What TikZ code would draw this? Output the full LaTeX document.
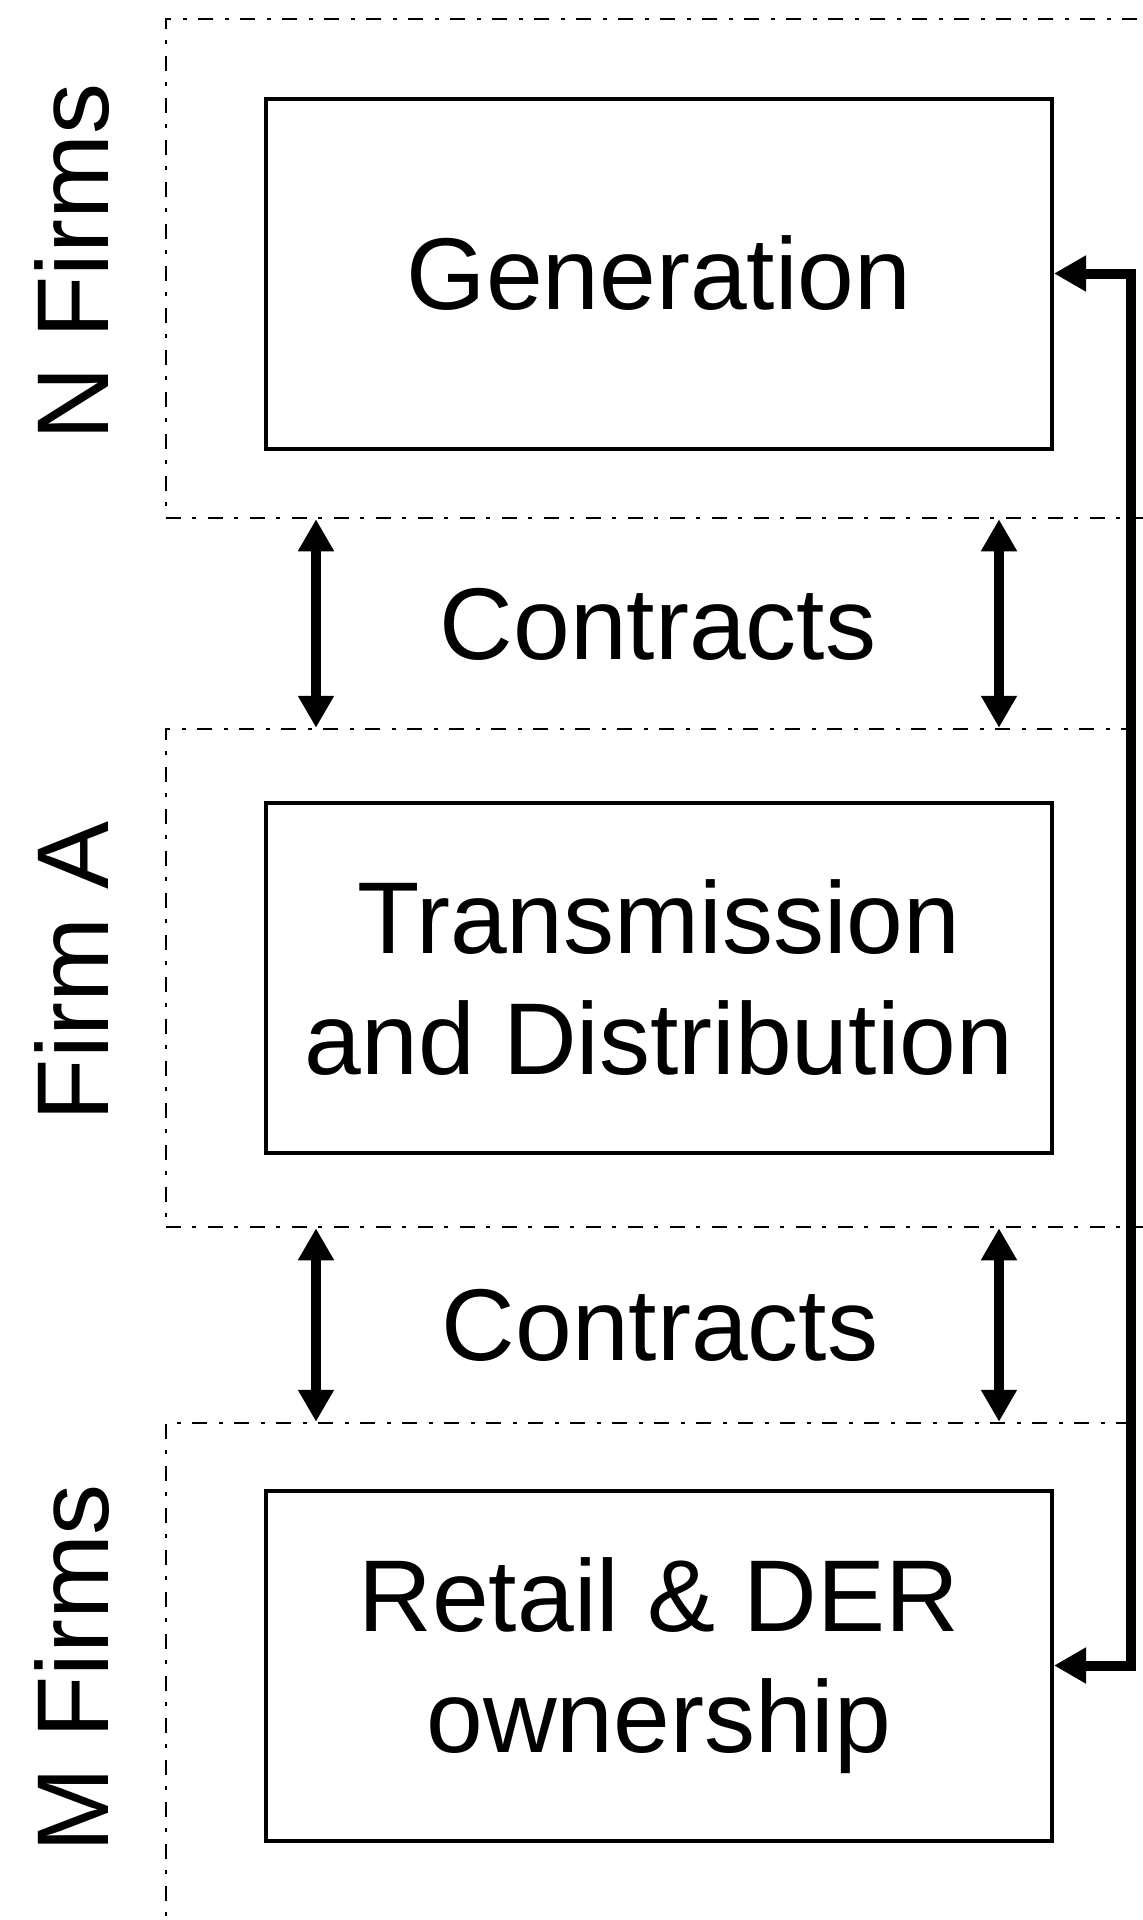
\documentclass[tikz,border=0pt]{standalone}
\usepackage{fontspec}
\setmainfont{Liberation Sans}
\usetikzlibrary{arrows.meta}

\begin{document}
\begin{tikzpicture}[x=1pt, y=-1pt,
    box/.style={rectangle, draw=black, line width=4pt, minimum width=786pt,
        minimum height=350pt, inner sep=0pt, align=center,
        font=\fontsize{102}{121}\selectfont},
    grp/.style={rectangle, draw=black, line width=2.5pt, minimum width=1034pt,
        dash pattern=on 15pt off 11pt on 4pt off 12pt},
    lbl/.style={rotate=90, inner sep=0pt, font=\fontsize{102}{121}\selectfont},
    arr/.style={{Triangle[length=32pt,width=34pt]}-{Triangle[length=32pt,width=34pt]},
        line width=10pt}
]
    \useasboundingbox (0,0) rectangle (1143,1920);
    \clip (0,0) rectangle (1143,1920);

    % firm groups, open to the right
    \node[grp, minimum height=499pt] (nfirms) at (683,268.5) {};
    \node[grp, minimum height=498pt] (firma) at (683,978) {};
    \node[grp, minimum height=577pt] (mfirms) at (683,1711.5) {};

    \node[lbl] (nlbl) at (72,262) {N Firms};
    \node[lbl] (albl) at (72,971) {Firm A};
    \node[lbl] (mlbl) at (72,1668) {M Firms};

    % segments
    \node[box] (gen) at (659,273.5) {Generation};
    \node[box] (td) at (659,978) {Transmission\\and Distribution};
    \node[box] (ret) at (659,1665.5) {Retail \& DER\\ownership};

    % contracts between the groups
    \coordinate (la) at (316,0);
    \coordinate (ra) at (999,0);
    \coordinate (rl) at (1131,0);
    \draw[arr] (nfirms.south -| la) -- (firma.north -| la);
    \draw[arr] (nfirms.south -| ra) -- (firma.north -| ra);
    \draw[arr] (firma.south -| la) -- (mfirms.north -| la);
    \draw[arr] (firma.south -| ra) -- (mfirms.north -| ra);
    \node[font=\fontsize{102}{121}\selectfont] (con1) at (658,624) {Contracts};
    \node[font=\fontsize{102}{121}\selectfont] (con2) at (660,1325) {Contracts};

    % link generation -- retail
    \draw[arr] (gen.east) -- (gen.east -| rl) -- (ret.east -| rl) -- (ret.east);
\end{tikzpicture}
\end{document}
